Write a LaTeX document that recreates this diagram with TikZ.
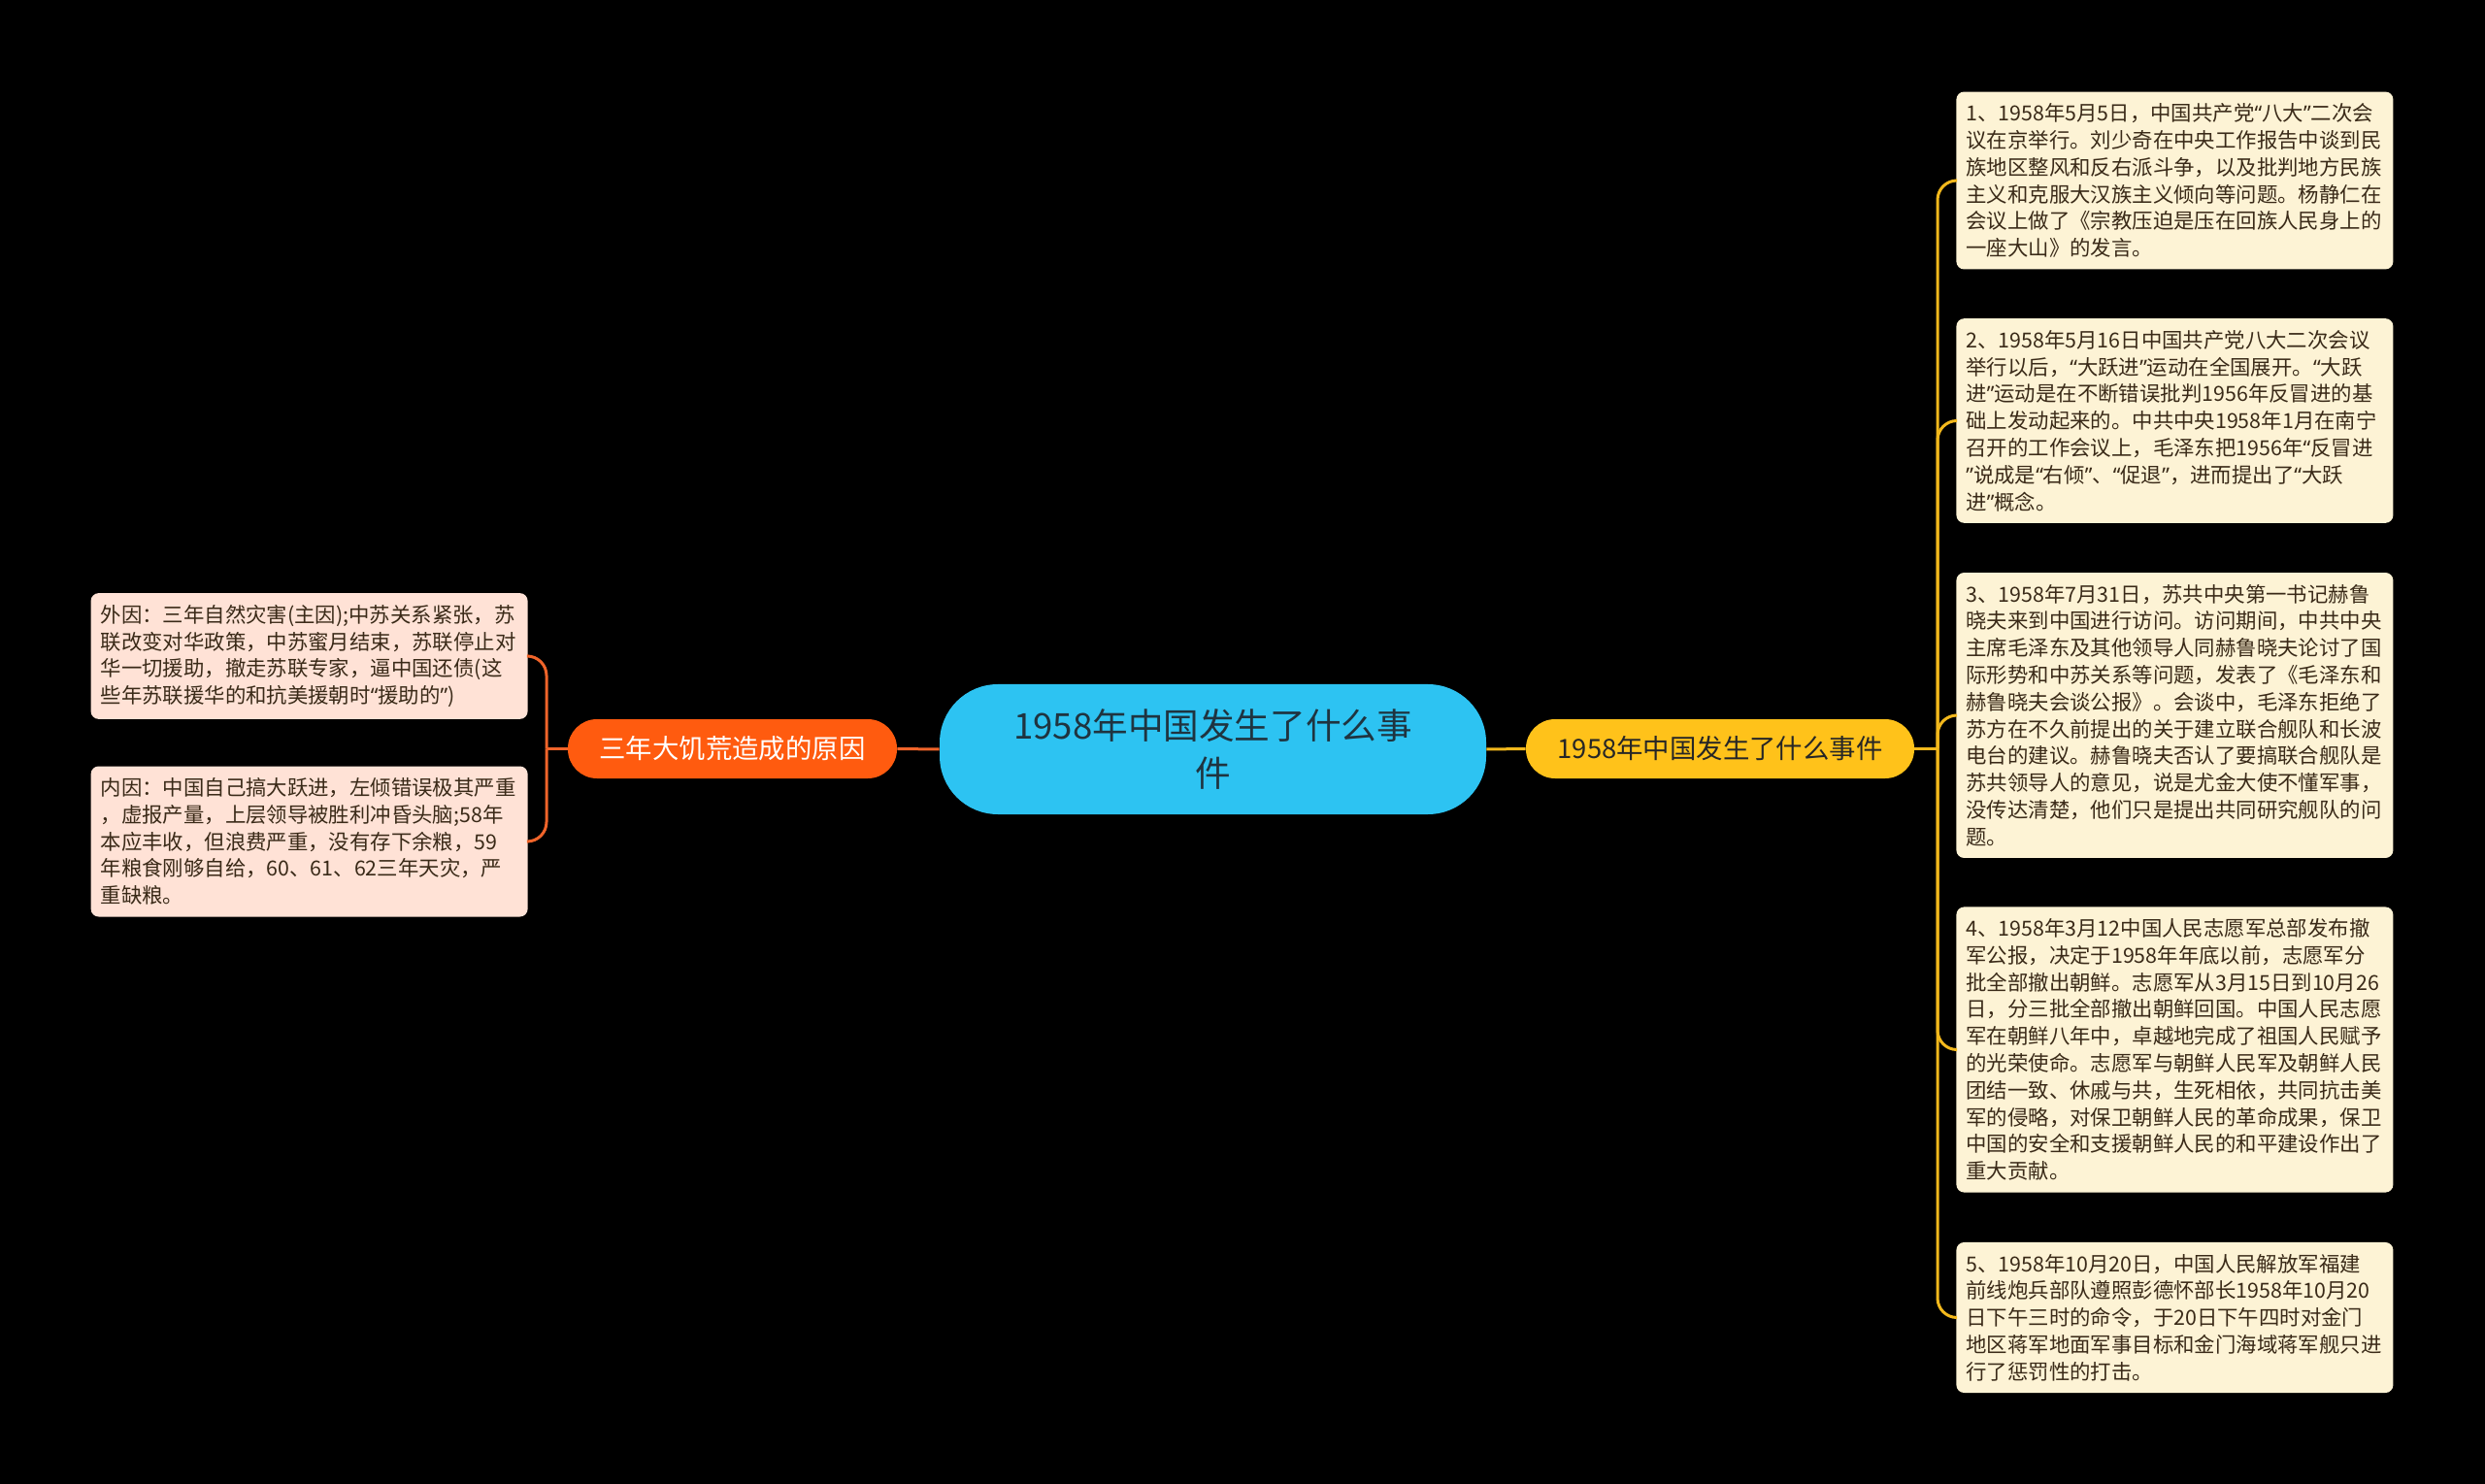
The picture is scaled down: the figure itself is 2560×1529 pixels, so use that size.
\documentclass[tikz,border=0pt]{standalone}
\usepackage{fontspec}
\setmainfont{Noto Sans CJK SC}
\newfontfamily\quotefont{Noto Sans}
\newcommand{\qopen}{{\quotefont “}}
\newcommand{\qclose}{{\quotefont ”}}
\usepackage{xcolor}
\usetikzlibrary{calc,positioning}
\definecolor{skyroot}{HTML}{2DC3F2}
\definecolor{firebranch}{HTML}{FF5B0F}
\definecolor{goldbranch}{HTML}{FFC21A}
\definecolor{peachleaf}{HTML}{FFE2D6}
\definecolor{creamleaf}{HTML}{FDF3D5}
\definecolor{goldline}{HTML}{F2B81C}
\definecolor{fireline}{HTML}{F0642A}
\definecolor{inkbrown}{HTML}{3A2A18}
\definecolor{rootink}{HTML}{1F3440}

\begin{document}
\begin{tikzpicture}[x=0.5pt,y=-0.5pt,
  rootbox/.style={fill=skyroot, rounded corners=30pt, minimum width=281.5pt, minimum height=67pt, align=center, text=rootink, font=\fontsize{18.3}{24.5}\selectfont},
  branchbox/.style={rounded corners=15pt, minimum height=30.5pt, font=\fontsize{13.7}{16}\selectfont},
  leafbox/.style={rounded corners=4pt, text width=215pt, inner xsep=5pt, inner ysep=6pt, align=left, text=inkbrown, font=\fontsize{10.7}{13.9}\selectfont},
  linkR/.style={goldline, line width=1.5pt},
  linkL/.style={fireline, line width=1.5pt}]
\fill[black] (0,0) rectangle (2560,1529);
% centre and the two branches
\node[rootbox] (root) at (1249.5,772) {1958年中国发生了什么事\\件};
\node[branchbox, fill=firebranch, text=white, minimum width=169.5pt] (causes) at (754.5,771.5) {三年大饥荒造成的原因};
\node[branchbox, fill=goldbranch, text=black!85, minimum width=200pt] (events) at (1772,771.5) {1958年中国发生了什么事件};
\draw[linkL] (root.west) -- (causes.east); \draw[linkR] (root.east) -- (events.west);
% right: five events
\node[leafbox, fill=creamleaf, anchor=west] (e1) at (2015,186) {1、1958年5月5日，中国共产党\qopen 八大\qclose 二次会\\议在京举行。刘少奇在中央工作报告中谈到民\\族地区整风和反右派斗争，以及批判地方民族\\主义和克服大汉族主义倾向等问题。杨静仁在\\会议上做了《宗教压迫是压在回族人民身上的\\一座大山》的发言。};
\node[leafbox, fill=creamleaf, anchor=west] (e2) at (2015,433.5) {2、1958年5月16日中国共产党八大二次会议\\举行以后，\qopen 大跃进\qclose 运动在全国展开。\qopen 大跃\\进\qclose 运动是在不断错误批判1956年反冒进的基\\础上发动起来的。中共中央1958年1月在南宁\\召开的工作会议上，毛泽东把1956年\qopen 反冒进\\\qclose 说成是\qopen 右倾\qclose 、\qopen 促退\qclose ，进而提出了\qopen 大跃\\进\qclose 概念。};
\node[leafbox, fill=creamleaf, anchor=west] (e3) at (2015,737) {3、1958年7月31日，苏共中央第一书记赫鲁\\晓夫来到中国进行访问。访问期间，中共中央\\主席毛泽东及其他领导人同赫鲁晓夫论讨了国\\际形势和中苏关系等问题，发表了《毛泽东和\\赫鲁晓夫会谈公报》。会谈中，毛泽东拒绝了\\苏方在不久前提出的关于建立联合舰队和长波\\电台的建议。赫鲁晓夫否认了要搞联合舰队是\\苏共领导人的意见，说是尤金大使不懂军事，\\没传达清楚，他们只是提出共同研究舰队的问\\题。};
\node[leafbox, fill=creamleaf, anchor=west] (e4) at (2015,1081.5) {4、1958年3月12中国人民志愿军总部发布撤\\军公报，决定于1958年年底以前，志愿军分\\批全部撤出朝鲜。志愿军从3月15日到10月26\\日，分三批全部撤出朝鲜回国。中国人民志愿\\军在朝鲜八年中，卓越地完成了祖国人民赋予\\的光荣使命。志愿军与朝鲜人民军及朝鲜人民\\团结一致、休戚与共，生死相依，共同抗击美\\军的侵略，对保卫朝鲜人民的革命成果，保卫\\中国的安全和支援朝鲜人民的和平建设作出了\\重大贡献。};
\node[leafbox, fill=creamleaf, anchor=west] (e5) at (2015,1357.5) {5、1958年10月20日，中国人民解放军福建\\前线炮兵部队遵照彭德怀部长1958年10月20\\日下午三时的命令，于20日下午四时对金门\\地区蒋军地面军事目标和金门海域蒋军舰只进\\行了惩罚性的打击。};
\coordinate (spineR) at (1996,771.5);
\draw[linkR] (events.east) -- (spineR);
\foreach \i in {1,...,5} \draw[linkR, rounded corners=10pt] (spineR) |- (e\i.west);
% left: two causes
\node[leafbox, fill=peachleaf, anchor=east] (c1) at (544,676) {外因：三年自然灾害(主因);中苏关系紧张，苏\\联改变对华政策，中苏蜜月结束，苏联停止对\\华一切援助，撤走苏联专家，逼中国还债(这\\些年苏联援华的和抗美援朝时\qopen 援助的\qclose )};
\node[leafbox, fill=peachleaf, anchor=east] (c2) at (544,867) {内因：中国自己搞大跃进，左倾错误极其严重\\，虚报产量，上层领导被胜利冲昏头脑;58年\\本应丰收，但浪费严重，没有存下余粮，59\\年粮食刚够自给，60、61、62三年天灾，严\\重缺粮。};
\coordinate (spineL) at (563,771.5);
\draw[linkL] (causes.west) -- (spineL);
\foreach \i in {1,2} \draw[linkL, rounded corners=10pt] (spineL) |- (c\i.east);
\end{tikzpicture}
\end{document}
